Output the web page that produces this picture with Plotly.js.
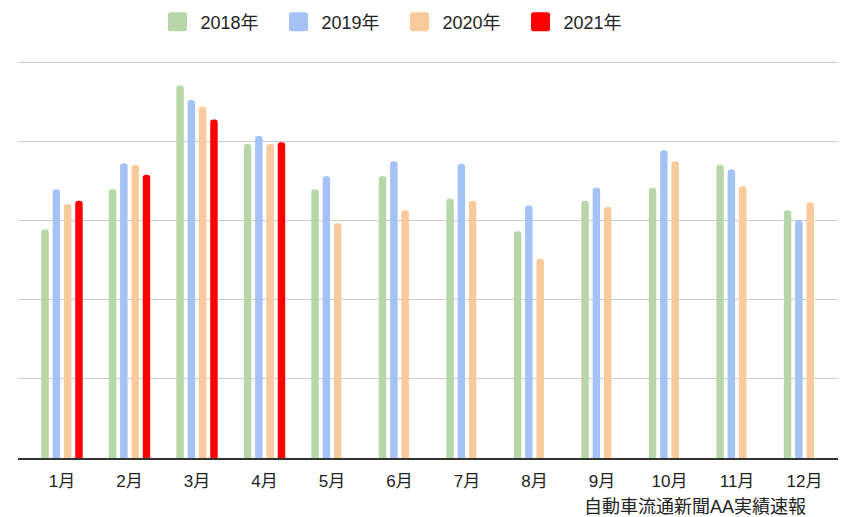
<!DOCTYPE html>
<html><head><meta charset="utf-8">
<script src="https://cdn.plot.ly/plotly-3.0.1.min.js"></script>
<style>html,body{margin:0;padding:0;background:#fff}#chart{width:841px;height:517px}</style>
</head><body><div id="chart"></div>
<script>
const months = ["1月","2月","3月","4月","5月","6月","7月","8月","9月","10月","11月","12月"];
const y2018 = [57.9,68.0,94.3,79.5,68.0,71.3,65.6,57.4,65.1,68.4,74.2,62.7];
const y2019 = [68.0,74.6,90.6,81.5,71.3,75.1,74.5,63.9,68.4,77.9,73.0,60.2];
const y2020 = [64.3,74.2,88.9,79.5,59.4,62.7,65.1,50.4,63.5,75.1,68.8,64.7];
const y2021 = [65.1,71.7,85.7,79.9,null,null,null,null,null,null,null,null];
const seriesNames = ["2018年","2019年","2020年","2021年"];
const seriesColors = ["#b7d7a8","#a4c2f4","#f9cb9c","#ff0000"];
const seriesValues = [y2018,y2019,y2020,y2021];

const font = "Liberation Sans, Arial, 'Noto Sans CJK JP', sans-serif";
const traces = seriesValues.map((v,i)=>({
  type:"bar", x:months, y:v, name:seriesNames[i],
  marker:{color:seriesColors[i], cornerradius:3, line:{width:0}},
  hoverinfo:"skip"
}));
const layout = {
  width:841, height:517,
  margin:{l:18,r:3,t:55,b:59},
  paper_bgcolor:"#fff", plot_bgcolor:"#fff",
  barmode:"group", bargap:0.33, bargroupgap:0.34,
  font:{family:font, color:"#222", size:17},
  showlegend:true,
  legend:{orientation:"h", x:0.4786, xanchor:"center", xref:"container", y:0.993, yanchor:"top", yref:"container",
          font:{size:18, color:"#222"}, entrywidth:76, itemwidth:30, traceorder:"normal"},
  xaxis:{type:"category", range:[-0.652,11.496], showgrid:false, showline:true, linecolor:"#333", linewidth:1.5,
         ticks:"", ticklabelstandoff:7, tickfont:{size:17,color:"#222"}, fixedrange:true},
  yaxis:{range:[0,102], tickvals:[0,20,40,60,80,100], showticklabels:false, showgrid:true, gridcolor:"#cccccc", gridwidth:1,
         zeroline:false, showline:false, ticks:"", fixedrange:true},
  annotations:[{text:"自動車流通新聞AA実績速報", xref:"paper", yref:"paper", x:0.963, xanchor:"right", y:0, yanchor:"middle", yshift:-49,
                height:20, showarrow:false, font:{size:18,color:"#222"}}]
};
Plotly.newPlot("chart", traces, layout, {displayModeBar:false, staticPlot:true}).then(gd=>{
  gd.querySelectorAll(".legend [clip-path]").forEach(el=>el.removeAttribute("clip-path"));
  gd.querySelectorAll(".legend .legendpoints path").forEach(p=>{
    p.setAttribute("d","M-7,-9.5H7A2.5,2.5 0 0 1 9.5,-7V7A2.5,2.5 0 0 1 7,9.5H-7A2.5,2.5 0 0 1 -9.5,7V-7A2.5,2.5 0 0 1 -7,-9.5Z");
    p.setAttribute("transform","translate(17,0)");
  });
});
</script></body></html>
